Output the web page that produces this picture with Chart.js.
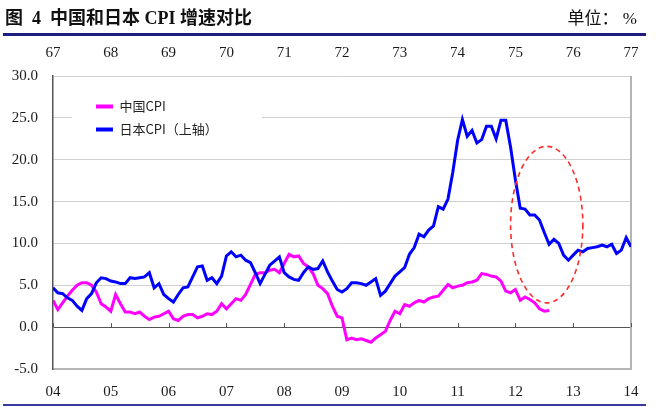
<!DOCTYPE html>
<html>
<head>
<meta charset="utf-8">
<script src="https://cdn.jsdelivr.net/npm/chart.js@4.4.1/dist/chart.umd.min.js"></script>
<style>
  body { margin: 0; background: #fff; }
  #wrap { position: relative; width: 660px; height: 407px; overflow: hidden; }
  #cpiChart { position: absolute; left: 0; top: 0; }
  .title { position: absolute; left: 5px; top: 3px; font: bold 18px "Liberation Serif", "Noto Sans CJK SC"; color: #111; white-space: pre; }
  .unit { position: absolute; right: 23px; top: 4px; font: 17px "Liberation Serif", "Noto Sans CJK SC"; color: #111; white-space: pre; }
  .rule-top { position: absolute; left: 3px; top: 33px; width: 643px; height: 3px; background: #1e1e80; }
  .rule-bottom { position: absolute; left: 3px; top: 404px; width: 643px; height: 2px; background: #3a3a9e; }
</style>
</head>
<body>
<div id="wrap">
  <canvas id="cpiChart" width="660" height="407"></canvas>
  <div class="title">图  4  中国和日本 CPI 增速对比</div>
  <div class="unit">单位： %</div>
  <div class="rule-top"></div>
  <div class="rule-bottom"></div>
</div>
<script>
// bottom axis = China (2004-2014), top axis = Japan (1967-1977)
const chinaYears = ['04', '05', '06', '07', '08', '09', '10', '11', '12', '13', '14']
const japanYears = ['67', '68', '69', '70', '71', '72', '73', '74', '75', '76', '77']
const seriesNames = ['中国CPI', '日本CPI（上轴）']

// monthly yoy %, China from Jan 2004
const chinaCPI = [
  3.2, 2.1, 2.9, 3.7, 4.4, 5.0, 5.3, 5.3, 5.0, 4.2,
  2.8, 2.4, 1.9, 3.9, 2.8, 1.8, 1.8, 1.6, 1.8, 1.3,
  0.9, 1.2, 1.3, 1.6, 1.9, 1.0, 0.8, 1.3, 1.5, 1.5,
  1.1, 1.3, 1.6, 1.5, 1.9, 2.8, 2.2, 2.8, 3.4, 3.2,
  3.9, 5.1, 6.3, 6.5, 6.5, 6.8, 6.9, 6.5, 7.6, 8.7,
  8.4, 8.5, 7.6, 7.2, 6.4, 5.0, 4.6, 4.0, 2.5, 1.3,
  1.1, -1.5, -1.3, -1.5, -1.4, -1.6, -1.8, -1.3, -0.9, -0.5,
  0.8, 1.9, 1.6, 2.7, 2.5, 2.9, 3.2, 3.0, 3.4, 3.6,
  3.7, 4.4, 5.1, 4.7, 4.9, 5.0, 5.3, 5.4, 5.6, 6.4,
  6.3, 6.1, 6.0, 5.5, 4.3, 4.1, 4.5, 3.2, 3.6, 3.3,
  2.9, 2.2, 1.9, 2.0
]

// monthly yoy %, Japan from Jan 1967
const japanCPI = [
  4.7, 4.1, 4.0, 3.5, 3.2, 2.5, 2.0, 3.4, 4.0, 5.3,
  5.9, 5.8, 5.5, 5.4, 5.2, 5.2, 5.9, 5.8, 5.9, 6.0,
  6.5, 4.7, 5.2, 3.9, 3.4, 3.0, 3.9, 4.7, 4.8, 6.0,
  7.2, 7.3, 5.6, 5.9, 5.2, 6.1, 8.5, 9.0, 8.4, 8.6,
  8.0, 7.7, 6.5, 5.2, 6.3, 7.4, 7.9, 8.4, 6.5, 6.0,
  5.7, 5.6, 6.5, 7.2, 6.9, 7.0, 7.9, 6.6, 5.5, 4.5,
  4.2, 4.6, 5.3, 5.3, 5.2, 5.0, 5.4, 5.8, 3.8, 4.3,
  5.2, 6.1, 6.6, 7.1, 8.7, 9.5, 11.1, 10.8, 11.6, 12.1,
  14.4, 14.1, 15.3, 18.5, 22.3, 24.8, 22.8, 23.5, 22.0, 22.4,
  24.0, 24.0, 22.5, 24.7, 24.7, 21.5, 17.6, 14.2, 14.1, 13.4,
  13.4, 12.8, 11.3, 9.9, 10.5, 10.0, 8.6, 8.0, 8.6, 9.2,
  9.0, 9.4, 9.5, 9.6, 9.8, 9.6, 9.9, 8.8, 9.2, 10.7,
  9.6
]

// dashed ring around 1975-76 (month index / % values)
const ring = { from: 95, to: 110, low: 2.9, high: 21.6 }

const tickFont = { family: '"Liberation Serif", serif', size: 15 }

const decor = {
  id: 'decor',
  afterLayout(chart) {
    const a = chart.chartArea
    const lg = chart.legend
    lg.left = a.left + 33
    lg.top = a.top + 14
    lg.right = a.right
    lg.bottom = a.bottom
  },
  beforeDatasetsDraw(chart) {
    const { ctx, chartArea: a, scales: { x, y } } = chart
    const lg = chart.legend
    ctx.save()
    // legend sits on a white box over the grid
    ctx.fillStyle = '#fff'
    ctx.fillRect(lg.left - 14, lg.top + 4, 190, 48)
    ctx.restore()
    lg.draw(a)

    ctx.save()
    // right frame
    ctx.strokeStyle = '#b4b4b4'
    ctx.lineWidth = 2
    ctx.beginPath()
    ctx.moveTo(a.right, a.top)
    ctx.lineTo(a.right, a.bottom)
    ctx.stroke()
    // year ticks on the zero line
    const y0 = y.getPixelForValue(0)
    ctx.strokeStyle = '#555'
    ctx.lineWidth = 1
    x.ticks.forEach(t => {
      const px = Math.round(x.getPixelForValue(t.value)) + 0.5
      ctx.beginPath()
      ctx.moveTo(px, y0)
      ctx.lineTo(px, y0 - 4)
      ctx.stroke()
    })
    ctx.restore()
  },
  afterDatasetsDraw(chart) {
    const { ctx, scales: { x, y } } = chart
    const l = x.getPixelForValue(ring.from), r = x.getPixelForValue(ring.to)
    const t = y.getPixelForValue(ring.high), b = y.getPixelForValue(ring.low)
    ctx.save()
    ctx.strokeStyle = '#ff2a2a'
    ctx.lineWidth = 1.6
    ctx.setLineDash([5, 4])
    ctx.beginPath()
    ctx.ellipse((l + r) / 2, (t + b) / 2, (r - l) / 2, (b - t) / 2, 0, 0, Math.PI * 2)
    ctx.stroke()
    ctx.restore()
  }
}

const ctx = document.getElementById('cpiChart').getContext('2d')
const cpiChart = new Chart(ctx, {
  type: 'line',
  data: {
    datasets: [{
      label: seriesNames[0],
      data: chinaCPI.map((v, i) => ({ x: i, y: v })),
      xAxisID: 'x',
      borderColor: '#ff00ff',
      backgroundColor: '#ff00ff',
      borderWidth: 3,
      pointRadius: 0,
      tension: 0,
      order: 1
    }, {
      label: seriesNames[1],
      data: japanCPI.map((v, i) => ({ x: i, y: v })),
      xAxisID: 'x2',
      borderColor: '#0000ff',
      backgroundColor: '#0000ff',
      borderWidth: 3,
      pointRadius: 0,
      tension: 0,
      order: 0
    }]
  },
  options: {
    responsive: false,
    animation: false,
    layout: { padding: { top: 40, right: 29, left: 0, bottom: 0 } },
    plugins: {
      tooltip: { enabled: false },
      legend: {
        position: 'chartArea',
        align: 'start',
        labels: {
          boxWidth: 17,
          boxHeight: 4,
          padding: 10,
          color: '#222',
          font: { family: '"Noto Sans CJK SC"', size: 13 },
          sort: (a, b) => a.datasetIndex - b.datasetIndex,
          generateLabels(chart) {
            return Chart.defaults.plugins.legend.labels.generateLabels(chart)
              .map(l => Object.assign(l, { fillStyle: l.strokeStyle, lineWidth: 0 }))
          }
        }
      }
    },
    scales: {
      x: {
        type: 'linear',
        position: 'bottom',
        min: 0,
        max: 120,
        afterFit(s) { s.height = 38 },
        grid: { display: false, drawTicks: false },
        border: { display: true, color: '#b4b4b4', width: 2 },
        ticks: {
          stepSize: 12, autoSkip: false, maxRotation: 0, padding: 14,
          color: '#1a1a1a', font: tickFont,
          callback: v => chinaYears[v / 12]
        }
      },
      x2: {
        type: 'linear',
        position: 'top',
        min: 0,
        max: 120,
        afterFit(s) { s.height = 36 },
        grid: { display: false, drawTicks: false },
        border: { display: false },
        ticks: {
          stepSize: 12, autoSkip: false, maxRotation: 0, padding: 14,
          color: '#1a1a1a', font: tickFont,
          callback: v => japanYears[v / 12]
        }
      },
      y: {
        min: -5,
        max: 30,
        afterFit(s) { s.width = 53 },
        border: { color: '#555', width: 1.5 },
        grid: {
          drawTicks: false,
          lineWidth: 1,
          color: c => (c.tick && c.tick.value === 0) ? '#555' : '#d0d0d0'
        },
        ticks: {
          stepSize: 5, padding: 15,
          color: '#1a1a1a', font: tickFont,
          callback: v => v.toFixed(1)
        }
      }
    }
  },
  plugins: [decor]
})
</script>
</body>
</html>
